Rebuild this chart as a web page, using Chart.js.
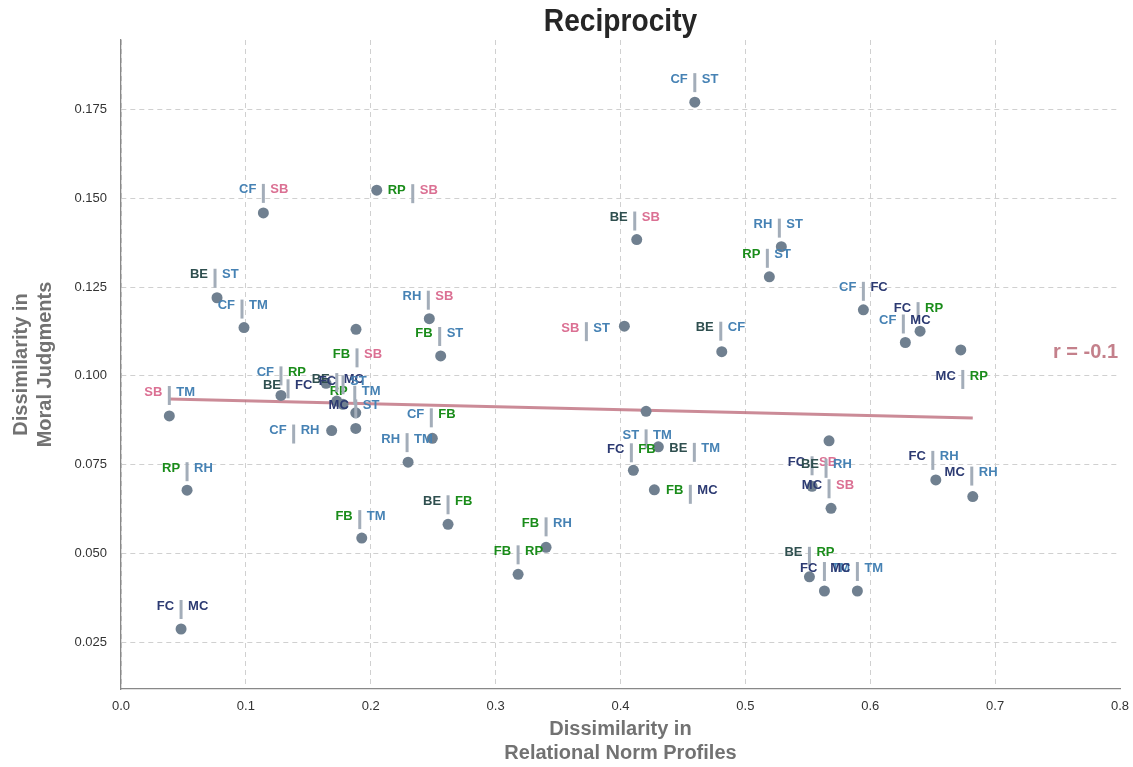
<!DOCTYPE html>
<html>
<head>
<meta charset="utf-8">
<script src="https://cdn.jsdelivr.net/npm/chart.js@4.4.1/dist/chart.umd.min.js"></script>
<style>
  html, body { margin: 0; background: #fff; }
</style>
</head>
<body>
<canvas id="chart" width="1133" height="767"></canvas>
<script>
// Pairwise dissimilarities between relationship types (reciprocity)
const pairLeft  = ['CF','CF','RP','BE','CF','FB','RH','FB','SB','CF','CF','RH','CF','RP','FB','BE','FC','BE','RH','RP','SB','BE','CF','FC','CF','MC','ST','FC','BE','FB','FC','BE','MC','FC','MC','BE','FB','FB','FC','MC','MC','RP','BE','FC','BE'];
const pairRight = ['ST','SB','SB','ST','TM','SB','SB','ST','TM','RP','RH','TM','FB','RH','TM','FB','MC','SB','ST','ST','ST','CF','FC','RP','MC','RP','TM','FB','TM','MC','SB','RH','SB','RH','RH','RP','RH','RP','TM','TM','ST','TM','MC','ST','FC'];

const normDissim  = [0.4595,0.1140,0.2048,0.0769,0.0985,0.1882,0.2469,0.2560,0.0387,0.1281,0.1687,0.2299,0.2493,0.0529,0.1928,0.2619,0.0481,0.4130,0.5288,0.5192,0.4031,0.4811,0.5945,0.6399,0.6281,0.6725,0.4205,0.4103,0.4303,0.4271,0.5534,0.5670,0.5686,0.6525,0.6821,0.5513,0.3404,0.3180,0.5633,0.5897,0.1880,0.1880,0.1728,0.1778,0.1642];
const moralDissim = [0.1771,0.1459,0.1523,0.1220,0.1136,0.1131,0.1161,0.1056,0.0887,0.0945,0.0846,0.0757,0.0824,0.0678,0.0543,0.0582,0.0287,0.1384,0.1364,0.1279,0.1140,0.1068,0.1186,0.1126,0.1094,0.1073,0.0900,0.0734,0.0800,0.0679,0.0689,0.0817,0.0627,0.0707,0.0660,0.0434,0.0517,0.0441,0.0394,0.0394,0.0852,0.0896,0.0929,0.0920,0.0979];

// where each "A | B" tag sits relative to its dot, in px (tag centre)
const labelNudge = [[0,-23],[0,-23],[36,0],[-2,-23],[-2,-22],[1,25],[-1,-22],[-1,-23],[0,-24],[0,-23],[-38,0],[-1,-23],[-1,-24],[0,-22],[-2,-22],[0,-23],[0,-23],[-2,-22],[-2,-22],[-2,-22],[-38,2],[-1,-24],[0,-22],[-2,-23],[-2,-22],[2,26],[0,24],[-2,-21],[36,2],[36,1],[0,-24],[-3,24],[-2,-23],[-3,-23],[-1,-24],[0,-24],[0,-24],[0,-23],[0,-23],[0,-23],[0,-23],[-1,-21],[0,-22],[0,-23],[-38,2]];

const xTicks = [0, 0.1, 0.2, 0.3, 0.4, 0.5, 0.6, 0.7, 0.8];
const yTicks = [0.025, 0.05, 0.075, 0.1, 0.125, 0.15, 0.175];
const reportedR = -0.1;

const typeColors = {
  BE: '#2f4f4f', CF: '#4682b4', RH: '#4682b4', ST: '#4682b4', TM: '#4682b4',
  FB: '#1a8c1a', RP: '#1a8c1a', FC: '#2c3a72', MC: '#2c3a72', SB: '#db7093'
};

// least-squares fit
function fitLine(xs, ys) {
  const n = xs.length;
  const mx = xs.reduce((a, b) => a + b, 0) / n;
  const my = ys.reduce((a, b) => a + b, 0) / n;
  let sxx = 0, sxy = 0;
  for (let i = 0; i < n; i++) {
    sxx += (xs[i] - mx) ** 2;
    sxy += (xs[i] - mx) * (ys[i] - my);
  }
  const slope = sxy / sxx;
  return { slope, icpt: my - slope * mx };
}

const fit = fitLine(normDissim, moralDissim);
const xMin = Math.min(...normDissim), xMax = Math.max(...normDissim);
const trend = [xMin, xMax].map(x => ({ x, y: fit.icpt + fit.slope * x }));
const points = normDissim.map((x, i) => ({ x, y: moralDissim[i] }));

const FONT = "'Liberation Sans', Arial, sans-serif";

const decorations = {
  id: 'decorations',
  afterDatasetsDraw(chart) {
    const { ctx, chartArea: a, scales: { x, y } } = chart;
    ctx.save();
    // pair tags
    ctx.font = `bold 13px ${FONT}`;
    ctx.textBaseline = 'middle';
    points.forEach((p, i) => {
      const px = x.getPixelForValue(p.x) + labelNudge[i][0];
      const ty = y.getPixelForValue(p.y) + labelNudge[i][1];
      ctx.strokeStyle = '#a3adb9';
      ctx.lineWidth = 3;
      ctx.beginPath();
      ctx.moveTo(px, ty - 6);
      ctx.lineTo(px, ty + 13);
      ctx.stroke();
      ctx.textAlign = 'right';
      ctx.fillStyle = typeColors[pairLeft[i]];
      ctx.fillText(pairLeft[i], px - 7, ty);
      ctx.textAlign = 'left';
      ctx.fillStyle = typeColors[pairRight[i]];
      ctx.fillText(pairRight[i], px + 7, ty);
    });

    // correlation readout
    ctx.font = `bold 20px ${FONT}`;
    ctx.fillStyle = '#c4808b';
    ctx.textAlign = 'right';
    ctx.fillText('r = ' + reportedR.toFixed(1), a.right - 2, 352);

    const cx = (a.left + a.right) / 2;
    const cy = (a.top + a.bottom) / 2;
    ctx.textAlign = 'center';

    // title, slightly narrowed
    ctx.save();
    ctx.translate(cx, 22);
    ctx.scale(0.88, 1);
    ctx.fillStyle = '#262626';
    ctx.font = `bold 32px ${FONT}`;
    ctx.fillText('Reciprocity', 0, 0);
    ctx.restore();

    ctx.fillStyle = '#727272';
    ctx.font = `bold 20px ${FONT}`;
    ctx.fillText('Dissimilarity in', cx, 729);
    ctx.fillText('Relational Norm Profiles', cx, 753);

    ctx.translate(0, cy);
    ctx.rotate(-Math.PI / 2);
    ctx.fillText('Dissimilarity in', 0, 21);
    ctx.fillText('Moral Judgments', 0, 45);
    ctx.restore();
  }
};

new Chart(document.getElementById('chart'), {
  type: 'scatter',
  data: {
    datasets: [
      {
        data: points,
        backgroundColor: '#708090',
        borderWidth: 0,
        pointRadius: 5.5,
        pointHoverRadius: 5.5
      },
      {
        type: 'line',
        data: trend,
        borderColor: 'rgba(190,110,125,0.8)',
        borderWidth: 3,
        pointRadius: 0,
        fill: false
      }
    ]
  },
  options: {
    responsive: false,
    animation: false,
    devicePixelRatio: 1,
    layout: { padding: { top: 40, right: 13, left: 0, bottom: 0 } },
    plugins: { legend: { display: false }, tooltip: { enabled: false } },
    scales: {
      x: {
        type: 'linear',
        min: 0, max: 0.8,
        afterBuildTicks: s => { s.ticks = xTicks.map(v => ({ value: v })); },
        afterFit: s => { s.height = 78; s.paddingLeft = 0; s.paddingRight = 0; },
        ticks: { color: '#333', font: { family: FONT, size: 13 }, padding: 10, callback: v => v.toFixed(1) },
        grid: { color: c => (c.tick && c.tick.value >= 0.8 ? 'rgba(0,0,0,0)' : '#d0d0d0'), drawTicks: false },
        border: { color: '#888', width: 1.3, dash: [5, 4] }
      },
      y: {
        type: 'linear',
        min: 0.0118, max: 0.1946,
        afterBuildTicks: s => { s.ticks = yTicks.map(v => ({ value: v })); },
        afterFit: s => { s.width = 121; },
        ticks: { color: '#333', font: { family: FONT, size: 13 }, padding: 14, callback: v => v.toFixed(3) },
        grid: { color: '#d0d0d0', drawTicks: false },
        border: { color: '#888', width: 1.3, dash: [5, 4] }
      }
    }
  },
  plugins: [decorations]
});
</script>
</body>
</html>
